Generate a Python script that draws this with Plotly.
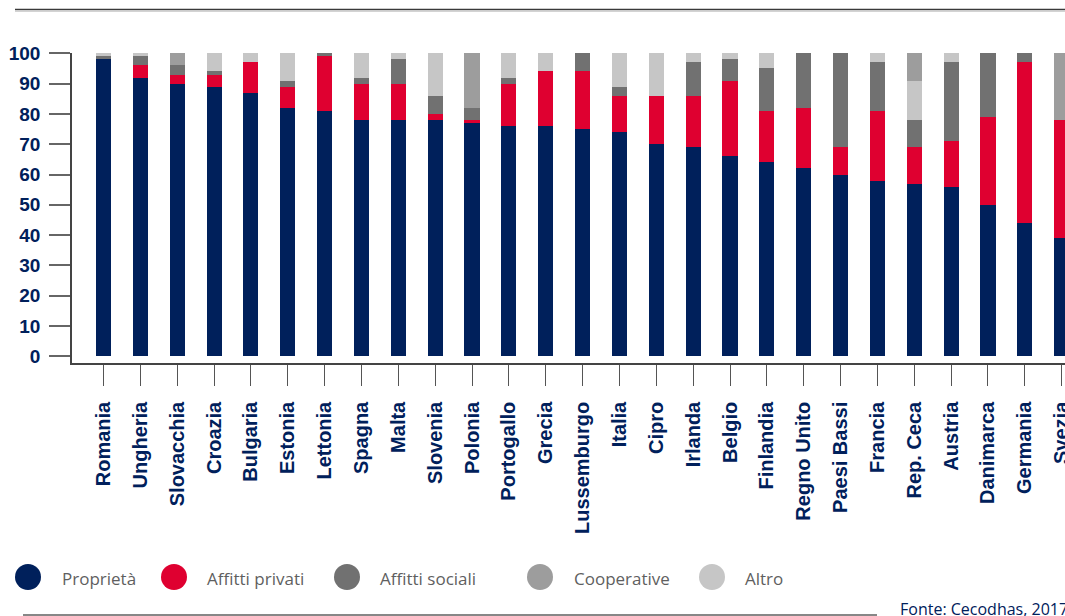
import plotly.graph_objects as go

# Dati (percentuali per titolo di godimento dell'abitazione)
countries = ["Romania", "Ungheria", "Slovacchia", "Croazia", "Bulgaria", "Estonia", "Lettonia",
             "Spagna", "Malta", "Slovenia", "Polonia", "Portogallo", "Grecia", "Lussemburgo",
             "Italia", "Cipro", "Irlanda", "Belgio", "Finlandia", "Regno Unito", "Paesi Bassi",
             "Francia", "Rep. Ceca", "Austria", "Danimarca", "Germania", "Svezia"]
proprieta = [98, 92, 90, 89, 87, 82, 81, 78, 78, 78, 77, 76, 76, 75, 74, 70, 69, 66, 64, 62, 60, 58, 57, 56, 50, 44, 39]
affitti_privati = [0, 4, 3, 4, 10, 7, 18, 12, 12, 2, 1, 14, 18, 19, 12, 16, 17, 25, 17, 20, 9, 23, 12, 15, 29, 53, 39]
affitti_sociali = [1, 3, 3, 1, 0, 2, 1, 2, 8, 6, 4, 2, 0, 6, 3, 0, 11, 7, 14, 18, 31, 16, 9, 26, 21, 3, 0]
cooperative = [0, 0, 4, 0, 0, 0, 0, 0, 0, 0, 18, 0, 0, 0, 0, 0, 0, 0, 0, 0, 0, 0, 9, 0, 0, 0, 22]
altro = [1, 1, 0, 6, 3, 9, 0, 8, 2, 14, 0, 8, 6, 0, 11, 14, 3, 2, 5, 0, 0, 3, 13, 3, 0, 0, 0]
y_ticks = [0, 10, 20, 30, 40, 50, 60, 70, 80, 90, 100]

NAVY = "#00205b"
RED = "#df0030"
GREY_DARK = "#717171"
GREY_MID = "#9d9d9d"
GREY_LIGHT = "#c6c6c6"

# ordine di impilamento (dal basso)
stack = [
    ("Proprietà", proprieta, NAVY),
    ("Affitti privati", affitti_privati, RED),
    ("Affitti sociali", affitti_sociali, GREY_DARK),
    ("Altro", altro, GREY_LIGHT),
    ("Cooperative", cooperative, GREY_MID),
]
# ordine della legenda
legend_items = [
    ("Proprietà", NAVY, 28, 60),
    ("Affitti privati", RED, 174, 205),
    ("Affitti sociali", GREY_DARK, 347, 378),
    ("Cooperative", GREY_MID, 540, 572),
    ("Altro", GREY_LIGHT, 712, 743),
]

W, H = 1065, 616
L, R, T, B = 72, 0, 53, 253


def px(x):
    return (x - L) / (W - L - R)


def py(y):
    return (H - B - y) / (H - T - B)


fig = go.Figure()
for name, vals, color in stack:
    fig.add_trace(go.Bar(x=countries, y=vals, name=name, showlegend=False,
                         marker=dict(color=color, line=dict(width=0))))

shapes = []
annotations = []

# legenda personalizzata con cerchi
for name, color, cx, tx in legend_items:
    shapes.append(dict(type="circle", xref="paper", yref="paper",
                       x0=px(cx - 13), x1=px(cx + 13), y0=py(577 + 13), y1=py(577 - 13),
                       fillcolor=color, line=dict(width=0)))
    annotations.append(dict(text=name, xref="paper", yref="paper", x=px(tx), y=py(578),
                            xanchor="left", yanchor="middle", showarrow=False,
                            font=dict(family="Open Sans", size=17, color="#5f5f5f")))

# linee decorative
shapes.append(dict(type="line", xref="paper", yref="paper", x0=px(15), x1=px(1070),
                   y0=py(9.5), y1=py(9.5), line=dict(color="#3a3a3a", width=1.5)))
shapes.append(dict(type="line", xref="paper", yref="paper", x0=px(15), x1=px(1070),
                   y0=py(11.3), y1=py(11.3), line=dict(color="#c8c8c8", width=1)))
shapes.append(dict(type="line", xref="paper", yref="paper", x0=px(23), x1=px(877),
                   y0=py(615), y1=py(615), line=dict(color="#111111", width=1.2)))

annotations.append(dict(text="Fonte: Cecodhas, 2017", xref="paper", yref="paper",
                        x=px(898), y=py(609), xanchor="left", yanchor="middle",
                        showarrow=False, font=dict(family="Open Sans", size=16, color=NAVY)))

fig.update_layout(
    barmode="stack",
    bargap=0.59,
    width=W,
    height=H,
    margin=dict(l=L, r=R, t=T, b=B, autoexpand=False),
    plot_bgcolor="white",
    paper_bgcolor="white",
    shapes=shapes,
    annotations=annotations,
    xaxis=dict(
        type="category",
        range=[-0.855, 26.09],
        tickangle=-90,
        ticks="outside",
        ticklen=21,
        tickwidth=1.2,
        tickcolor="#555555",
        ticklabelstandoff=8,
        showline=True,
        linecolor="#444444",
        linewidth=1.5,
        showgrid=False,
        tickfont=dict(family="Liberation Sans", size=20, color=NAVY, weight=700),
    ),
    yaxis=dict(
        range=[-2.2, 100.1],
        tickvals=y_ticks,
        ticks="outside",
        ticklen=21,
        tickwidth=1.5,
        tickcolor="#666666",
        ticklabelstandoff=5,
        showline=True,
        linecolor="#444444",
        linewidth=1.5,
        showgrid=False,
        zeroline=False,
        tickfont=dict(family="Liberation Sans", size=19, color=NAVY, weight=700),
    ),
)

# niente margine della pagina: la figura parte dall'angolo in alto a sinistra
fig.write_html("out.html", config={"displayModeBar": False},
               post_script="document.body.style.margin='0';")
